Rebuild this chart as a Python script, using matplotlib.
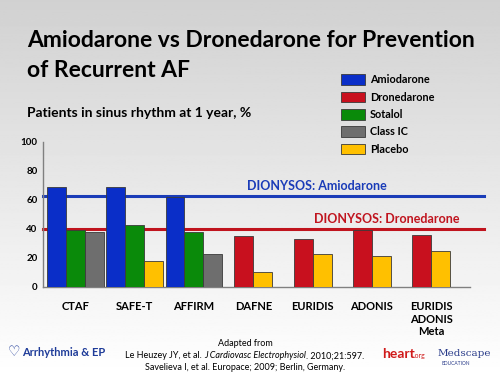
import numpy as np
import matplotlib
matplotlib.use("Agg")
import matplotlib.pyplot as plt
from matplotlib.patches import Patch

plt.rcParams['font.family'] = ['Lato', 'DejaVu Sans']

studies = ['CTAF', 'SAFE-T', 'AFFIRM', 'DAFNE', 'EURIDIS', 'ADONIS', 'EURIDIS\nADONIS\nMeta']
drugs = ['Amiodarone', 'Dronedarone', 'Sotalol', 'Class IC', 'Placebo']
colors = ['#0a2ec8', '#c8101e', '#0a8a0a', '#6e6e6e', '#ffc000']

amiodarone = [69, 69, 62, None, None, None, None]
dronedarone = [None, None, None, 35, 33, 39.5, 36]
sotalol = [39, 43, 38, None, None, None, None]
class_ic = [38, None, 23, None, None, None, None]
placebo = [None, 18, None, 10, 22.5, 21.5, 25]
series = [amiodarone, dronedarone, sotalol, class_ic, placebo]

dionysos_amio = 63
dionysos_drone = 40

fig = plt.figure(figsize=(5, 3.75), dpi=100)

# background gradient, grey at the top to white at the bottom
bg = fig.add_axes([0, 0, 1, 1], zorder=-10)
grad = np.linspace(0.82, 1.0, 256).reshape(-1, 1)
bg.imshow(grad, aspect='auto', cmap='gray', vmin=0, vmax=1, extent=[0, 1, 0, 1])
bg.axis('off')

ax = fig.add_axes([0.086, 0.2347, 0.854, 0.3867])
ax.patch.set_alpha(0)

w = 0.32
for g in range(len(studies)):
    present = [k for k in range(len(series)) if series[k][g] is not None]
    n = len(present)
    for j, k in enumerate(present):
        x = g + (j - (n - 1) / 2) * w
        ax.bar(x, series[k][g], width=w, color=colors[k], edgecolor='#3a3a3a',
               linewidth=0.6, zorder=3)

handles = [Patch(facecolor=c, edgecolor='#3a3a3a', linewidth=0.6) for c in colors]

ax.axhline(dionysos_amio, xmin=0, xmax=1.033, color='#1a3cb8', lw=2.2, zorder=2, clip_on=False)
ax.axhline(dionysos_drone, xmin=0, xmax=1.033, color='#c0141e', lw=2.2, zorder=2, clip_on=False)
ax.text(2.89, dionysos_amio + 2.5, 'DIONYSOS: Amiodarone', color='#1a3cb8',
        fontsize=9, fontweight='bold', va='bottom', ha='left')
ax.text(4.03, dionysos_drone + 3, 'DIONYSOS: Dronedarone', color='#c0141e',
        fontsize=9, fontweight='bold', va='bottom', ha='left')

ax.set_xlim(-0.546, 6.655)
ax.set_ylim(0, 100)
ax.set_yticks([0, 20, 40, 60, 80, 100])
ax.set_xticks(range(len(studies)))
ax.set_xticklabels(studies, fontsize=8, fontweight='bold', va='top', linespacing=1.2)
ax.tick_params(axis='x', length=0, pad=10)
ax.tick_params(axis='y', length=0, pad=4, labelsize=7)
for lab in ax.get_yticklabels():
    lab.set_fontweight('bold')
for s in ['top', 'right']:
    ax.spines[s].set_visible(False)
for s in ['left', 'bottom']:
    ax.spines[s].set_color('#808080')
    ax.spines[s].set_linewidth(1)

fig.legend(handles, drugs, loc='upper left', bbox_to_anchor=(0.663, 0.828),
           frameon=False, handlelength=2.2, handleheight=1.15, labelspacing=0.58,
           handletextpad=0.45, prop={'size': 7.8, 'weight': 'bold'})

fig.text(0.054, 0.875, 'Amiodarone vs Dronedarone for Prevention',
         fontsize=16.5, fontweight='bold', va='baseline', ha='left')
fig.text(0.054, 0.795, 'of Recurrent AF',
         fontsize=16.5, fontweight='bold', va='baseline', ha='left')
fig.text(0.054, 0.688, 'Patients in sinus rhythm at 1 year, %', fontsize=10,
         fontweight='bold', va='baseline', ha='left')

# citation
fig.text(0.49, 0.078, 'Adapted from', fontsize=6.5, ha='center', va='baseline')
fig.canvas.draw()
r = fig.canvas.get_renderer()
parts = [('Le Heuzey JY, et al. ', 'normal'), ('J Cardiovasc Electrophysiol', 'italic'),
         ('. 2010;21:597.', 'normal')]
texts = [fig.text(0, 0.044, p, fontsize=6.5, style=st, va='baseline') for p, st in parts]
widths = [t.get_window_extent(r).width / fig.bbox.width for t in texts]
x0 = 0.49 - sum(widths) / 2
for t, wd in zip(texts, widths):
    t.set_x(x0)
    x0 += wd
fig.text(0.49, 0.013, 'Savelieva I, et al. Europace; 2009; Berlin, Germany.', fontsize=6.5,
         ha='center', va='baseline')

# logos as text
fig.text(0.016, 0.05, '\u2661', fontsize=10, fontweight='bold',
         color='#1f3c99', family=['DejaVu Sans'], va='baseline')
fig.text(0.045, 0.05, 'Arrhythmia & EP', fontsize=8, fontweight='bold',
         color='#1f3c99', va='baseline')
fig.text(0.764, 0.045, 'heart', fontsize=10, fontweight='bold', color='#d01a1a', va='baseline')
fig.text(0.828, 0.045, '.org', fontsize=5, color='#d01a1a', va='baseline')
fig.text(0.876, 0.05, 'Medscape', fontsize=7.5, color='#2a3c8a', family=['DejaVu Serif'],
         va='baseline')
fig.text(0.884, 0.027, 'EDUCATION', fontsize=3.5, color='#2a3c8a', va='baseline')

fig.savefig('out.png', dpi=100)
